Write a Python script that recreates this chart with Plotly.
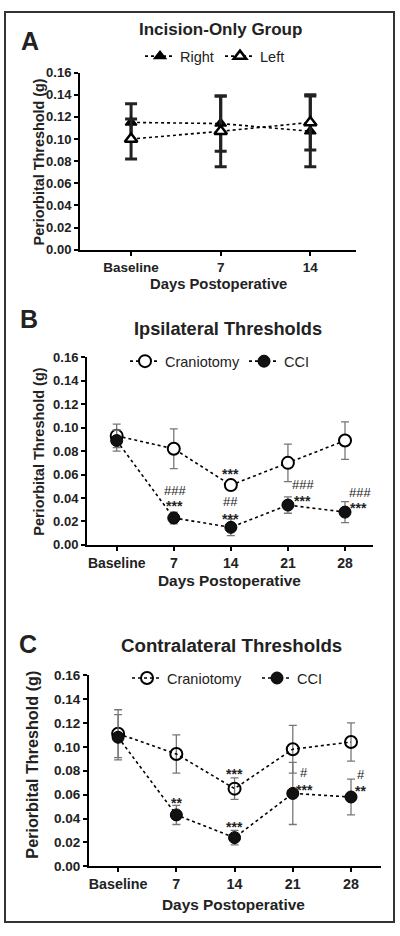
import plotly.graph_objects as go

W, H = 400, 936

# ---------------- data ----------------
# Panel A: Incision-only group
a_days = ["Baseline", "7", "14"]
a_right = [0.115, 0.114, 0.107]
a_right_err = [0.017, 0.025, 0.032]
a_left = [0.100, 0.107, 0.115]
a_left_err = [0.018, 0.032, 0.025]

# Panel B: Ipsilateral thresholds
b_days = ["Baseline", "7", "14", "21", "28"]
b_cran = [0.093, 0.082, 0.051, 0.070, 0.089]
b_cran_err = [0.010, 0.017, 0.004, 0.016, 0.016]
b_cci = [0.089, 0.023, 0.015, 0.034, 0.028]
b_cci_err = [0.009, 0.005, 0.007, 0.007, 0.009]

# Panel C: Contralateral thresholds
c_days = ["Baseline", "7", "14", "21", "28"]
c_cran = [0.111, 0.094, 0.065, 0.098, 0.104]
c_cran_err = [0.020, 0.016, 0.009, 0.020, 0.016]
c_cci = [0.108, 0.043, 0.024, 0.061, 0.058]
c_cci_err = [0.019, 0.008, 0.006, 0.026, 0.015]

# significance labels: (x position in category units, y value, text)
b_sig = [(2, 0.063, "***"),
         (1.02, 0.0462, "###"), (1.02, 0.0355, "***"),
         (2, 0.0367, "##"), (2, 0.0250, "***"),
         (3.26, 0.0512, "###"), (3.26, 0.0402, "***"),
         (4.26, 0.0451, "###"), (4.24, 0.0343, "***")]
c_sig = [(2, 0.0801, "***"),
         (1, 0.0554, "**"),
         (2, 0.0356, "***"),
         (3.2, 0.0782, "#"), (3.2, 0.0662, "***"),
         (4.18, 0.0770, "#"), (4.17, 0.0653, "**")]

FONT = "Liberation Sans, Arial, sans-serif"


def fx(px):
    return px / W


def fy(py):
    return 1 - py / H


fig = go.Figure()

# ---------- Panel A traces ----------
xa = list(range(len(a_days)))
fig.add_trace(go.Scatter(
    x=xa, y=a_right, name="Right", xaxis="x", yaxis="y", legend="legend",
    mode="lines+markers",
    line=dict(color="black", width=1.6, dash="3px,3px"),
    marker=dict(symbol="triangle-up", size=10, color="black",
                line=dict(color="black", width=1.5)),
    error_y=dict(type="data", array=a_right_err, color="#222", thickness=3, width=6)))
fig.add_trace(go.Scatter(
    x=xa, y=a_left, name="Left", xaxis="x", yaxis="y", legend="legend",
    mode="lines+markers",
    line=dict(color="black", width=1.6, dash="3px,3px"),
    marker=dict(symbol="triangle-up", size=11, color="white",
                line=dict(color="black", width=2.5)),
    error_y=dict(type="data", array=a_left_err, color="#222", thickness=3, width=6)))

# ---------- Panel B traces ----------
xb = list(range(len(b_days)))
fig.add_trace(go.Scatter(
    x=xb, y=b_cran, name="Craniotomy", xaxis="x2", yaxis="y2", legend="legend2",
    mode="lines+markers",
    line=dict(color="black", width=1.6, dash="3px,3px"),
    marker=dict(symbol="circle", size=12, color="white",
                line=dict(color="black", width=2)),
    error_y=dict(type="data", array=b_cran_err, color="#777", thickness=1.3, width=4)))
fig.add_trace(go.Scatter(
    x=xb, y=b_cci, name="CCI", xaxis="x2", yaxis="y2", legend="legend2",
    mode="lines+markers",
    line=dict(color="black", width=1.6, dash="3px,3px"),
    marker=dict(symbol="circle", size=12, color="#111",
                line=dict(color="black", width=1)),
    error_y=dict(type="data", array=b_cci_err, color="#777", thickness=1.3, width=4)))

# ---------- Panel C traces ----------
xc = list(range(len(c_days)))
fig.add_trace(go.Scatter(
    x=xc, y=c_cran, name="Craniotomy", xaxis="x3", yaxis="y3", legend="legend3",
    mode="lines+markers",
    line=dict(color="black", width=1.6, dash="3px,3px"),
    marker=dict(symbol="circle", size=12, color="rgba(255,255,255,0)",
                line=dict(color="black", width=2)),
    error_y=dict(type="data", array=c_cran_err, color="#777", thickness=1.3, width=4)))
fig.add_trace(go.Scatter(
    x=xc, y=c_cci, name="CCI", xaxis="x3", yaxis="y3", legend="legend3",
    mode="lines+markers",
    line=dict(color="black", width=1.6, dash="3px,3px"),
    marker=dict(symbol="circle", size=12, color="#111",
                line=dict(color="black", width=1)),
    error_y=dict(type="data", array=c_cci_err, color="#777", thickness=1.3, width=4)))


def xaxis(domain, n, lo, hi, anchor, size):
    return dict(domain=domain, range=[lo, n - 1 + hi], anchor=anchor,
                tickmode="array", tickvals=list(range(n)),
                showline=True, linecolor="black", linewidth=2,
                ticks="outside", ticklen=4, tickwidth=2, tickcolor="black",
                tickfont=dict(family=FONT, size=size, color="#222", weight="bold"),
                showgrid=False, zeroline=False)


def yaxis(domain, anchor, size):
    return dict(domain=domain, range=[0, 0.16], anchor=anchor,
                tick0=0, dtick=0.02, tickformat=".2f",
                showline=True, linecolor="black", linewidth=2,
                ticks="outside", ticklen=4, tickwidth=2, tickcolor="black",
                tickfont=dict(family=FONT, size=size, color="#222", weight="bold"),
                showgrid=False, zeroline=False)


xA = xaxis([fx(80), fx(356)], len(a_days), -0.57, 0.51, "y", 13.5)
xA["ticktext"] = a_days
xB = xaxis([fx(87), fx(372.7)], len(b_days), -0.52, 0.485, "y2", 14)
xB["ticktext"] = b_days
xC = xaxis([fx(89), fx(381)], len(c_days), -0.50, 0.515, "y3", 14.3)
xC["ticktext"] = c_days

yA = yaxis([fy(246.7), fy(66.7)], "x", 13)
yB = yaxis([fy(546.7), fy(356)], "x2", 13)
yC = yaxis([fy(873.3), fy(679)], "x3", 13.5)

annotations = []


def txt(x, y, text, size, weight="bold", angle=0, color="#222"):
    annotations.append(dict(x=fx(x), y=fy(y), xref="paper", yref="paper",
                            text=text, showarrow=False, textangle=angle,
                            xanchor="center", yanchor="middle",
                            font=dict(family=FONT, size=size, color=color,
                                      weight=weight)))


# panel letters
txt(30, 35, "A", 25)
txt(29, 317, "B", 25)
txt(28, 647, "C", 25)
# titles
txt(220, 23, "Incision-Only Group", 17)
txt(228, 327, "Ipsilateral Thresholds", 18.2)
txt(232, 649, "Contralateral Thresholds", 18.7)
# axis titles
txt(218, 282, "Days Postoperative", 14.8)
txt(230, 583, "Days Postoperative", 15.4)
txt(233, 912, "Days Postoperative", 15.4)
txt(39, 158, "Periorbital Threshold (g)", 14.4, angle=-90)
txt(39, 452, "Periorbital Threshold (g)", 14.5, angle=-90)
txt(32, 770, "Periorbital Threshold (g)", 16.2, angle=-90)

for xr, yr, sig in (("x2", "y2", b_sig), ("x3", "y3", c_sig)):
    for (x, y, t) in sig:
        star = "*" in t
        annotations.append(dict(x=x, y=y, xref=xr, yref=yr, text=t,
                                showarrow=False, xanchor="center",
                                yanchor="middle",
                                yshift=-3 if star else 0,
                                font=dict(family=FONT, size=14 if star else 13,
                                          color="#222",
                                          weight="bold" if star else "normal")))

legend_common = dict(orientation="h", xanchor="left", yanchor="middle",
                     font=dict(family=FONT, size=14.5, color="#222"),
                     bgcolor="rgba(0,0,0,0)", borderwidth=0,
                     entrywidthmode="pixels", itemclick=False,
                     itemdoubleclick=False)

fig.update_layout(
    width=W, height=H,
    margin=dict(l=0, r=0, t=0, b=0),
    paper_bgcolor="white", plot_bgcolor="white",
    xaxis=xA, yaxis=yA, xaxis2=xB, yaxis2=yB, xaxis3=xC, yaxis3=yC,
    annotations=annotations,
    legend=dict(x=fx(140), y=fy(50), entrywidth=35, **legend_common),
    legend2=dict(x=fx(125), y=fy(360), entrywidth=74, **legend_common),
    legend3=dict(x=fx(127), y=fy(682), entrywidth=85, **legend_common),
    shapes=[dict(type="rect", xref="paper", yref="paper",
                 x0=fx(5), x1=fx(394), y0=fy(930), y1=fy(5),
                 line=dict(color="#333", width=2))],
)

fig.write_html("out.html",
               config={"displayModeBar": False},
               post_script="document.body.style.margin='0px';"
                           "document.body.style.padding='0px';")
